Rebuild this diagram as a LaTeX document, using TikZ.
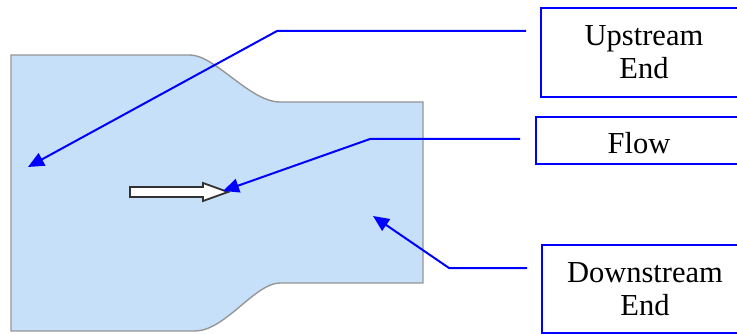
\documentclass[tikz,border=0pt]{standalone}
\usepackage{fontspec}
\newfontfamily\labelfont{Liberation Serif}
\usetikzlibrary{arrows.meta}
\definecolor{fillblue}{RGB}{198,224,250}
\definecolor{shapegray}{RGB}{150,150,150}
\definecolor{arrowgray}{RGB}{50,50,50}
\begin{document}
\begin{tikzpicture}[x=1pt,y=-1pt,
  lbl/.style={draw=blue, line width=2pt, font=\labelfont\fontsize{30.5}{33}\selectfont, align=center, anchor=west, inner sep=0pt},
  callout/.style={draw=blue, line width=2pt, -{Triangle[length=16pt,width=14pt]}},
  blockarrow/.style={fill=white, draw=arrowgray, line width=1.8pt, line join=miter},
  region/.style={fill=fillblue, draw=shapegray, line width=1.4pt}
]
\useasboundingbox (0,0) rectangle (737,334);
% channel region
\path[region] (11,55) -- (190,55) .. controls (215,55) and (250,102) .. (280,102)
  -- (423,102) -- (423,283) -- (280,283) .. controls (255,283) and (225,331) .. (195,331)
  -- (11,331) -- cycle;
% flow block arrow
\path[blockarrow] (130,187) -- (203,187) -- (203,183) -- (228,192) -- (203,201) -- (203,197) -- (130,197) -- cycle;
% label boxes
\node[lbl, minimum width=206pt, minimum height=89pt] (up) at (540,52.5) {Upstream\\End};
\node[lbl, minimum width=206pt, minimum height=47pt, text height=26pt, text depth=0pt] (flow) at (535,140.5) {Flow};
\node[lbl, minimum width=206pt, minimum height=88pt] (down) at (541,289) {Downstream\\End};
% connector coordinates
\coordinate (upS) at (526,31);
\coordinate (upB) at (277,31);
\coordinate (upT) at (28,167);
\coordinate (flS) at (520,139);
\coordinate (flB) at (370,139);
\coordinate (flT) at (223,191);
\coordinate (dnS) at (527,268);
\coordinate (dnB) at (449,268);
\coordinate (dnT) at (373,216);
\draw[callout] (upS) -- (upB) -- (upT);
\draw[callout] (flS) -- (flB) -- (flT);
\draw[callout] (dnS) -- (dnB) -- (dnT);
\end{tikzpicture}
\end{document}
